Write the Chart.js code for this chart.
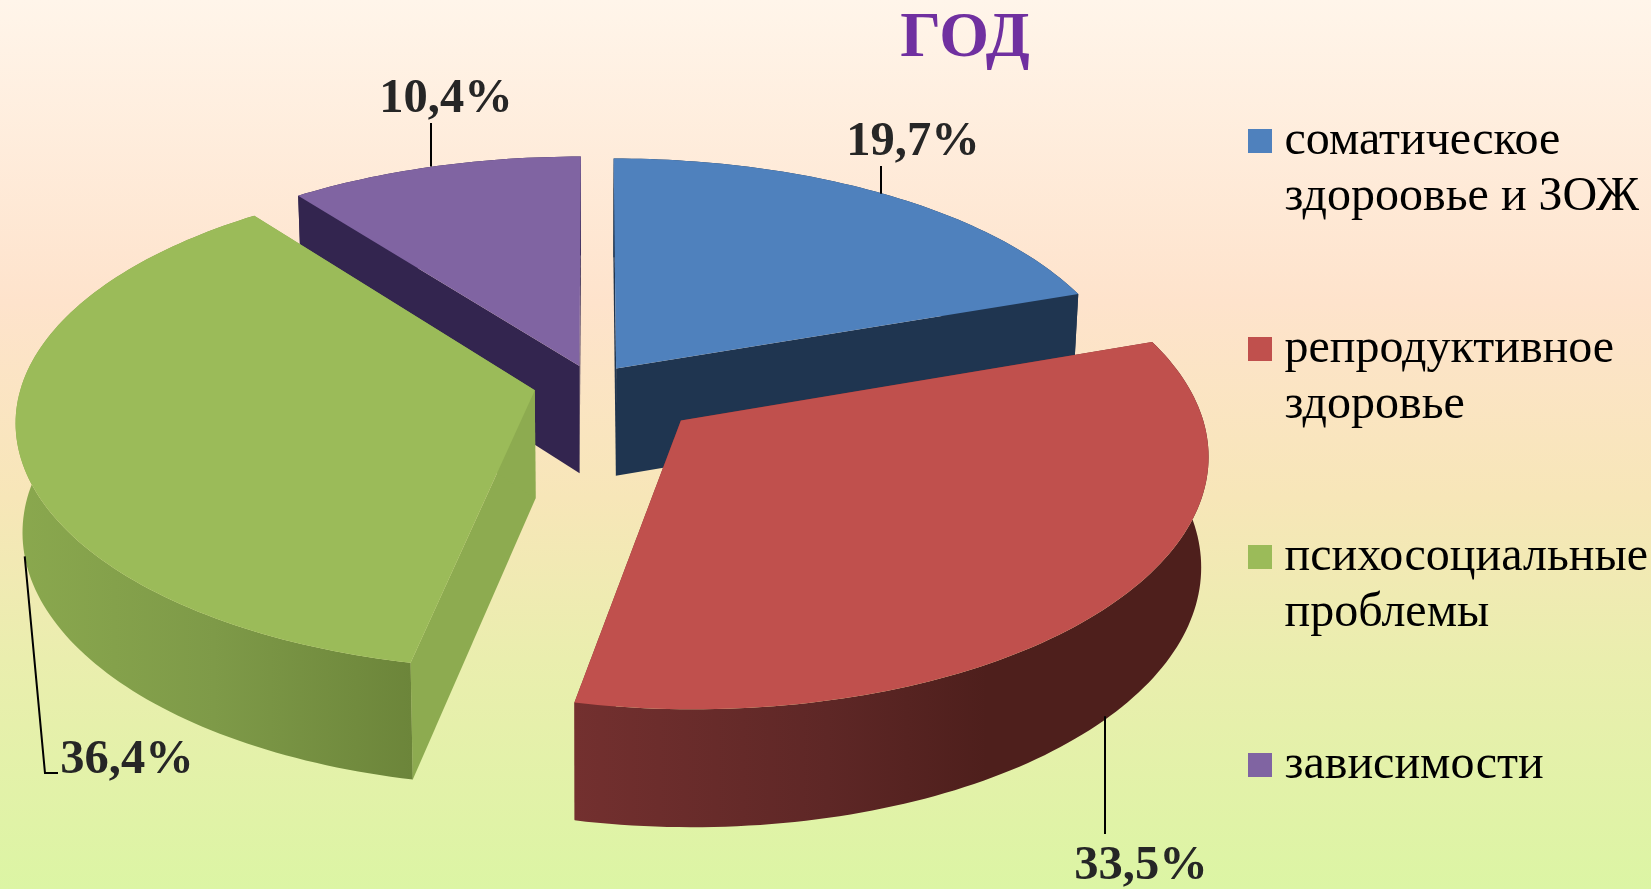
<!DOCTYPE html>
<html lang="ru"><head><meta charset="utf-8">
<script src="https://cdn.jsdelivr.net/npm/chart.js@4/dist/chart.umd.min.js"></script>
<style>html,body{margin:0;padding:0;background:#fff}canvas{display:block}</style>
</head><body><canvas id="c" width="1651" height="889"></canvas>
<script>
const categories = [
  ['соматическое','здороовье и ЗОЖ'],
  ['репродуктивное','здоровье'],
  ['психосоциальные','проблемы'],
  ['зависимости']
];
const values = [19.7, 33.5, 36.4, 10.4];
const chartTitle = 'ГОД';
const topColors = ['#4f81bd','#c0504d','#9bbb59','#8064a2'];
const wallColors = ['#1f3550','#7a2f2d','#8dab50','#33254f'];
const rimStops = [
  [[0,'#1f3550'],[1,'#1f3550']],
  [[0,'#73302f'],[.4,'#5e2726'],[.65,'#4e1f1c'],[1,'#4e1f1c']],
  [[0,'#8aa84e'],[.5,'#7e9a48'],[1,'#6c853a']],
  [[0,'#33254f'],[1,'#33254f']]
];
const explode = [0.08, 0.225, 0.115, 0.08];
const drawOrder = [3,0,2,1];
const labelAnchor = [ {x:913,y:155,lx:881,ly:166}, {x:1141,y:879,lx:1105,ly:834}, {x:127,y:773,lx:45,ly:773,ex:58}, {x:446,y:112,lx:431,ly:123} ];
const VIEW = {cx:592.5, cy:384, A:513, B:241, kx:0.12, ky:0.13, depth:108, depthPersp:0.08, shrink:0.012};

function project(X,Y,low){
  const s = low ? 1-VIEW.shrink : 1;
  return {
    x: VIEW.cx + VIEW.A*X/(1-VIEW.kx*Y)*s,
    y: VIEW.cy + VIEW.B*Y/(1-VIEW.ky*Y) + (low ? VIEW.depth*(1+VIEW.depthPersp*Y) : 0)
  };
}
function rimPoint(i,t,low){
  const a = midA[i];
  const ox = Math.sin(a)*explode[i], oy = -Math.cos(a)*explode[i];
  return project(ox+Math.sin(t), oy-Math.cos(t), low);
}
function apex(i,low){
  const a = midA[i];
  return project(Math.sin(a)*explode[i], -Math.cos(a)*explode[i], low);
}
const midA = [];
const poly = (ctx,pts,fill)=>{ctx.beginPath();pts.forEach((p,i)=>i?ctx.lineTo(p.x,p.y):ctx.moveTo(p.x,p.y));ctx.closePath();ctx.fillStyle=fill;ctx.fill();};

const pie3d = {
  id:'pie3d',
  beforeDraw(chart){
    const {ctx,width,height} = chart;
    const g = ctx.createLinearGradient(0,0,0,height);
    g.addColorStop(0,'#fff5ea');
    g.addColorStop(.34,'#fee3cc');
    g.addColorStop(.56,'#f7e6b8');
    g.addColorStop(.74,'#eaeeae');
    g.addColorStop(1,'#dcf5a4');
    ctx.save();ctx.fillStyle=g;ctx.fillRect(0,0,width,height);ctx.restore();
  },
  afterLayout(chart){
    const t = chart.titleBlock;
    t.left = 865; t.right = 1065;
    t.top = 4; t.bottom = 74;
    const l = chart.legend;
    const w = l.width;
    l.left = 1163.5; l.right = l.left + w;
    l.top = 21; l.bottom = l.top + l.height;
  },
  beforeDatasetDraw(chart){
    const {ctx} = chart;
    const arcs = chart.getDatasetMeta(0).data;
    const span = arcs.map(a=>{const p=a.getProps(['startAngle','endAngle'],true);return [p.startAngle+Math.PI/2,p.endAngle+Math.PI/2];});
    span.forEach((s,i)=>midA[i]=(s[0]+s[1])/2);
    ctx.save();
    drawOrder.forEach(i=>{
      const [t0,t1]=span[i];
      const n=Math.ceil((t1-t0)/0.02);
      const top=[],low=[];
      for(let j=0;j<=n;j++){const t=t0+(t1-t0)*j/n;top.push(rimPoint(i,t,false));low.push(rimPoint(i,t,true));}
      const A=apex(i,false),B=apex(i,true);
      // radial walls
      poly(ctx,[A,top[0],low[0],B],wallColors[i]);
      poly(ctx,[A,top[n],low[n],B],wallColors[i]);
      // outer rim
      const xs=top.concat(low).map(p=>p.x);
      const g=ctx.createLinearGradient(Math.min(...xs),0,Math.max(...xs),0);
      rimStops[i].forEach(s=>g.addColorStop(s[0],s[1]));
      poly(ctx,top.concat(low.slice().reverse()),g);
      // top face
      poly(ctx,[A].concat(top),topColors[i]);
    });
    // value labels and leader lines
    ctx.font='bold 48.5px "Liberation Serif"';
    ctx.textAlign='center';ctx.textBaseline='alphabetic';
    values.forEach((v,i)=>{
      const L=labelAnchor[i];
      const bottomRim = (i===1||i===2);
      const P=rimPoint(i,midA[i],bottomRim);
      ctx.beginPath();
      ctx.moveTo(i===2?P.x:L.lx,P.y);ctx.lineTo(L.lx,L.ly);
      if(L.ex)ctx.lineTo(L.ex,L.ly);
      ctx.strokeStyle='#000';ctx.lineWidth=2;ctx.stroke();
      ctx.fillStyle='#262626';
      ctx.fillText(v.toFixed(1).replace('.',',')+'%',L.x,L.y);
    });
    ctx.restore();
    return false;
  }
};

new Chart(document.getElementById('c'),{
  type:'pie',
  data:{labels:categories,datasets:[{data:values,backgroundColor:topColors,borderWidth:0}]},
  options:{
    responsive:false,animation:false,
    layout:{padding:0},
    plugins:{
      tooltip:{enabled:false},
      title:{display:true,text:chartTitle,color:'#7030a0',padding:0,font:{family:'"Liberation Serif"',size:64,weight:'bold',lineHeight:1.1}},
      legend:{position:'right',align:'start',maxWidth:600,labels:{
        usePointStyle:true,pointStyle:'rect',
        boxWidth:1,boxHeight:24,padding:96,color:'#000',
        font:{family:'"Liberation Serif"',size:48,lineHeight:1.167}
      }}
    }
  },
  plugins:[pie3d]
});
</script></body></html>
